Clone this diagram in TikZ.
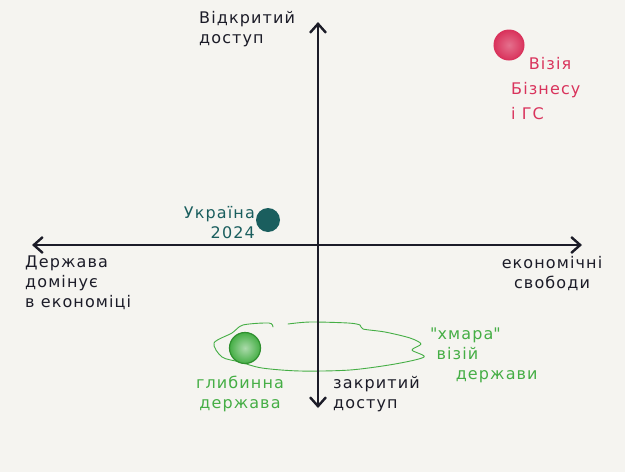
\documentclass[tikz,border=0pt]{standalone}
\usepackage{fontspec}
\setmainfont{DejaVu Sans}[LetterSpace=7]
\usetikzlibrary{arrows.meta}
\definecolor{bg}{HTML}{F5F4F0}
\definecolor{ink}{HTML}{1C1C28}
\definecolor{redv}{HTML}{D9335C}
\definecolor{teal}{HTML}{1A5E5E}
\definecolor{grn}{HTML}{45AE45}
\definecolor{grnd}{HTML}{2F8F2F}
\begin{document}
\begin{tikzpicture}[x=1pt,y=-1pt,
  axis/.style={line width=2.6pt,draw=ink,{Straight Barb[length=9pt,width=16pt,line width=2.4pt]}-{Straight Barb[length=9pt,width=16pt,line width=2.4pt]}},
  lbl/.style={font=\fontsize{16}{20}\selectfont,text=ink,inner sep=0pt},
  glbl/.style={lbl,text=grn},
  rlbl/.style={lbl,text=redv,font=\fontsize{16}{25}\selectfont}]
\fill[bg] (0,0) rectangle (625,472);
\useasboundingbox (0,0) rectangle (625,472);
% cloud
\draw[grn,line width=0.9pt,line cap=round,line join=round] plot[smooth,tension=0.5] coordinates{
 (273,327) (269,323) (243,325) (232,333) (214,343) (222,357) (240,362) (262,368) (300,371)
 (350,370) (395,364) (424,357) (412,350) (421,344) (410,338) (385,332) (363,329) (360,325)
 (348,323) (310,322) (288,324)};
% axes
\coordinate (top) at (318,22);
\coordinate (bot) at (318,408);
\coordinate (lft) at (32,245);
\coordinate (rgt) at (582,245);
\draw[axis] (lft) -- (rgt);
\draw[axis] (bot) -- (top);
% dots
\node[circle,minimum size=30pt,inner color=redv!70,outer color=redv,draw=redv,line width=1pt,inner sep=0pt] (biz) at (509,45) {};
\node[circle,minimum size=24pt,fill=teal,inner sep=0pt] (ukr) at (268,220) {};
\node[circle,minimum size=31pt,inner color=grn!45,outer color=grn,draw=grnd,line width=1.2pt,inner sep=0pt] (deep) at (245,348) {};
% labels
\node[lbl,anchor=north west,align=left] (open) at (199,11) {Відкритий\\доступ};
\node[rlbl,align=left,anchor=north west] (bizt) at (511,57) {\hspace*{1.1em}Візія\\Бізнесу\\і ГС};
\node[lbl,text=teal,align=right,anchor=east] (ukrt) at (255,223) {Україна\\2024};
\node[lbl,anchor=north west,align=left] (state) at (25,256) {Держава\\домінує\\в економіці};
\node[lbl,align=center] (free) at (552,274) {економічні\\свободи};
\node[glbl,align=center] (deept) at (240,394) {глибинна\\держава};
\node[lbl,anchor=north west,align=left] (closed) at (333,376) {закритий\\доступ};
\node[glbl,anchor=north west,align=left] (cloudt) at (430,328) {\textquotedbl хмара\textquotedbl\\\hspace*{0.4em}візій\\\hspace*{1.6em}держави};
\end{tikzpicture}
\end{document}
